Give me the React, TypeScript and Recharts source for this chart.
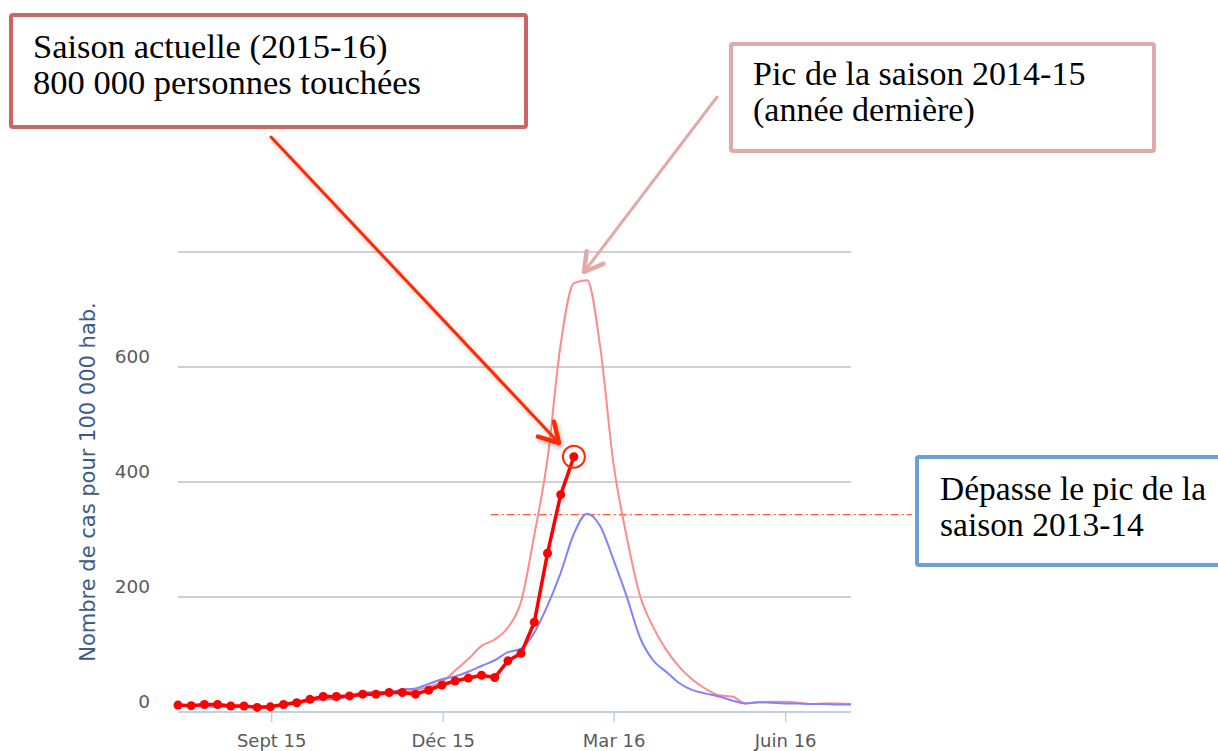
import {
  LineChart,
  Line,
  XAxis,
  YAxis,
  CartesianGrid,
  ReferenceLine,
  ReferenceDot
} from 'recharts';

// weekly incidence, one value per week starting mid-July
const season1516 = [12, 11, 13, 13, 10.5, 10.5, 8, 9, 13, 16, 22, 27, 27, 28, 31, 31, 34, 34, 31, 38, 47, 54, 59, 64, 60, 89, 102, 156, 276, 378, 444];
const season1415 = [12, 11, 10, 10, 9, 9, 9, 10, 12, 15, 19, 22, 24, 27, 30, 32, 33, 35, 38, 44, 52, 72, 92, 115, 126, 147, 192, 308, 440, 640, 746, 751, 634, 432, 305, 203, 148, 108, 78, 56, 40, 29, 27, 15, 17, 18, 18, 16, 14, 15, 15, 14];
const season1314 = [12, 11, 10, 9, 9, 9, 10, 11, 14, 18, 21, 22, 22, 28, 34, 35, 35, 39, 41, 49, 57, 62, 70, 80, 90, 104, 110, 138, 185, 242, 310, 345, 323, 265, 201, 130, 90, 70, 50, 38, 32, 27, 20, 15, 17, 16, 15, 15, 14, 14, 13, 13];

const xTicks = [7.1, 20.1, 33.05, 46.05];
const xTickLabels = ['Sept 15', 'Déc 15', 'Mar 16', 'Juin 16'];
const yTicks = [0, 200, 400, 600, 800];
const yTickLabels = ['0', '200', '400', '600', ''];

const peak1314 = 343;

const COLORS = {
  current: '#ff0000',
  lastYear: '#ff8a8a',
  twoYears: '#8282ff',
  arrowRed: '#ff2a00',
  boxRed: '#cd6660',
  boxPink: '#e3a9a8',
  boxBlue: '#6a9fd8',
  grid: '#c0c0c0',
  axis: '#c0d0e0',
  tick: '#5a5a5a',
  title: '#3e5a86'
};

const data = season1415.map((v, i) => ({
  week: i,
  s1415: v,
  s1314: season1314[i],
  s1516: i < season1516.length ? season1516[i] : null
}));

const sansFont = '"DejaVu Sans", sans-serif';
const serifFont = '"Liberation Serif", serif';

function XTick({ x, y, payload }: any) {
  const i = xTicks.indexOf(payload.value);
  return (
    <text x={x} y={y} dy={25} textAnchor="middle" fill={COLORS.tick} fontSize={18} fontFamily={sansFont}>
      {xTickLabels[i]}
    </text>
  );
}

function YTick({ x, y, payload }: any) {
  const i = yTicks.indexOf(payload.value);
  return (
    <text x={x} y={y - 4} textAnchor="end" fill={COLORS.tick} fontSize={18.5} fontFamily={sansFont}>
      {yTickLabels[i]}
    </text>
  );
}

function YTitle({ viewBox }: any) {
  const cx = viewBox.x + 18;
  const cy = viewBox.y + viewBox.height / 2;
  return (
    <text
      x={cx}
      y={cy}
      transform={`rotate(-90 ${cx} ${cy})`}
      textAnchor="middle"
      dominantBaseline="central"
      fill={COLORS.title}
      fontSize={21}
      fontFamily={sansFont}
    >
      Nombre de cas pour 100 000 hab.
    </text>
  );
}

// straight arrow with an open V head
function Arrow({ from, to, color, width, head, shadow }: any) {
  const dx = to[0] - from[0];
  const dy = to[1] - from[1];
  const len = Math.hypot(dx, dy);
  const ux = -dx / len;
  const uy = -dy / len;
  const c = Math.cos(Math.PI / 6);
  const s = Math.sin(Math.PI / 6);
  const a1 = [to[0] + head * (ux * c - uy * s), to[1] + head * (ux * s + uy * c)];
  const a2 = [to[0] + head * (ux * c + uy * s), to[1] + head * (-ux * s + uy * c)];
  return (
    <g filter={shadow ? 'url(#arrowShadow)' : undefined} stroke={color} strokeWidth={width} fill="none" strokeLinecap="round" strokeLinejoin="round">
      <line x1={from[0]} y1={from[1]} x2={to[0]} y2={to[1]} />
      <polyline points={`${a1[0]},${a1[1]} ${to[0]},${to[1]} ${a2[0]},${a2[1]}`} strokeWidth={width + 1.5} />
    </g>
  );
}

// two-line note, kept as one text element
function Note({ x, y, lines, size }: any) {
  return (
    <text x={x} y={y} fontSize={size} fontFamily={serifFont} fill="#000">
      <tspan x={x} dy={0}>{lines[0]}</tspan>
      <tspan x={x} dy={36}>{lines[1]}</tspan>
    </text>
  );
}

function Annotations() {
  return (
    <svg
      width={1218}
      height={751}
      style={{ position: 'absolute', left: 0, top: 0, pointerEvents: 'none' }}
    >
      <defs>
        <filter id="arrowShadow" x="-10%" y="-10%" width="130%" height="130%">
          <feDropShadow dx="2" dy="3" stdDeviation="2" floodColor="#000" floodOpacity="0.25" />
        </filter>
      </defs>

      <rect x={11} y={15} width={515} height={112} rx={2} fill="#fff" stroke={COLORS.boxRed} strokeWidth={4} />
      <Note x={33} y={58} size={34.5} lines={['Saison actuelle (2015-16)', '800 000 personnes touchées']} />

      <rect x={731} y={44} width={423} height={107} rx={2} fill="#fff" stroke={COLORS.boxPink} strokeWidth={4} />
      <Note x={753} y={85} size={34} lines={['Pic de la saison 2014-15', '(année dernière)']} />

      <rect x={917} y={457} width={320} height={108} rx={2} fill="#fff" stroke={COLORS.boxBlue} strokeWidth={4} />
      <Note x={940} y={500} size={33.5} lines={['Dépasse le pic de la', 'saison 2013-14']} />

      <Arrow from={[271, 137]} to={[559, 443]} color={COLORS.arrowRed} width={3} head={22} shadow />
      <Arrow from={[717, 97]} to={[584, 272]} color={COLORS.boxPink} width={3} head={21} />
    </svg>
  );
}

export default function App() {
  return (
    <div style={{ position: 'absolute', left: 0, top: 0, width: 1218, height: 751, background: '#fff' }}>
      <LineChart
        width={1218}
        height={751}
        data={data}
        margin={{ top: 252, right: 367, bottom: 3, left: 70 }}
      >
        <CartesianGrid horizontal vertical={false} stroke={COLORS.grid} strokeWidth={1.5} />
        <XAxis
          dataKey="week"
          type="number"
          domain={[0, 51]}
          ticks={xTicks}
          tick={<XTick />}
          height={36}
          tickSize={10}
          tickMargin={0}
          interval={0}
          axisLine={{ stroke: COLORS.axis, strokeWidth: 2 }}
          tickLine={{ stroke: COLORS.axis, strokeWidth: 1.5 }}
        />
        <YAxis
          type="number"
          domain={[0, 800]}
          ticks={yTicks}
          tick={<YTick />}
          width={108}
          tickSize={0}
          tickMargin={28}
          interval={0}
          axisLine={false}
          tickLine={false}
          label={{ content: <YTitle /> }}
        />
        <ReferenceLine
          segment={[{ x: 23.7, y: peak1314 }, { x: 55.6, y: peak1314 }]}
          ifOverflow="visible"
          stroke={COLORS.arrowRed}
          strokeWidth={1}
          strokeDasharray="8 3 2 3"
        />
        <Line
          type="monotone"
          dataKey="s1415"
          stroke={COLORS.lastYear}
          strokeWidth={2}
          dot={false}
          isAnimationActive={false}
        />
        <Line
          type="monotone"
          dataKey="s1314"
          stroke={COLORS.twoYears}
          strokeWidth={2}
          dot={false}
          isAnimationActive={false}
        />
        <Line
          type="linear"
          dataKey="s1516"
          stroke={COLORS.current}
          strokeWidth={3.5}
          strokeLinejoin="round"
          dot={{ r: 4.5, fill: COLORS.current, stroke: 'none' }}
          connectNulls={false}
          isAnimationActive={false}
        />
        <ReferenceDot
          x={season1516.length - 1}
          y={season1516[season1516.length - 1]}
          r={11}
          fill="none"
          stroke={COLORS.arrowRed}
          strokeWidth={2}
          ifOverflow="visible"
        />
      </LineChart>
      <Annotations />
    </div>
  );
}
